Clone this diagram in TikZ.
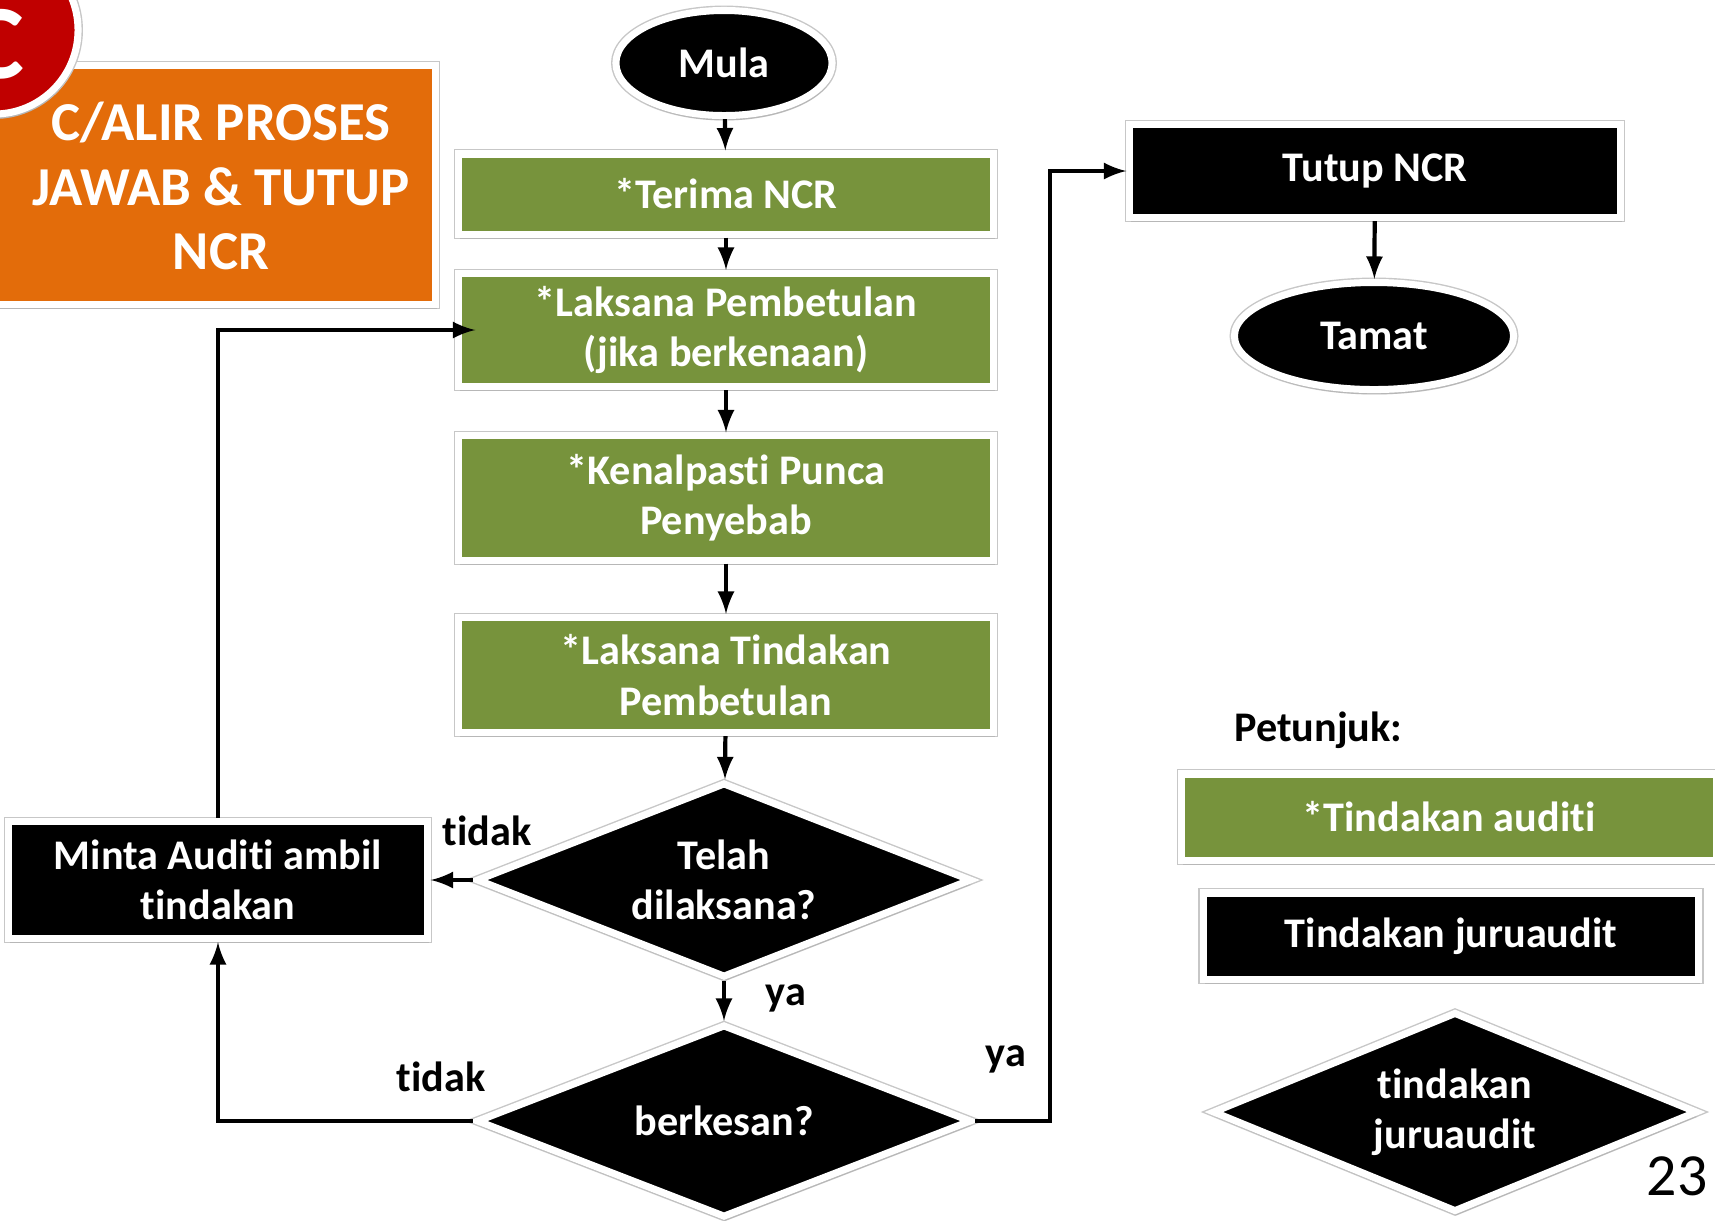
\documentclass[tikz,border=0pt]{standalone}
\usepackage{fontspec}
\setmainfont{Carlito}[Ligatures=NoCommon]
\usepackage{tikz}
\usetikzlibrary{shapes.geometric, arrows, shadows, positioning}
\definecolor{olive}{HTML}{77933C}
\definecolor{titleorange}{HTML}{E36C0A}
\definecolor{badgered}{HTML}{C00000}
\tikzstyle{arrow} = [line width=1.2pt,->,>=latex]
\tikzstyle{boxfont} = [font=\fontsize{12}{14.3}\selectfont\bfseries]
\tikzstyle{framed} = [preaction={draw=black!22, line width=2.8pt}, draw=white, line width=2pt, drop shadow={opacity=0.22,shadow xshift=0.4pt,shadow yshift=-1.4pt}]
\tikzstyle{greenbox} = [rectangle, fill=olive, framed, text=white, boxfont, align=center, minimum width=5.34cm]
\tikzstyle{blackbox} = [rectangle, fill=black, framed, text=white, boxfont, align=center]
\tikzstyle{terminal} = [ellipse, fill=black, framed, text=white, boxfont]
\tikzstyle{decision} = [diamond, aspect=2.5, fill=black, framed, text=white, boxfont, align=center, inner sep=0pt, minimum width=4.95cm, minimum height=1.95cm]
\tikzstyle{answer} = [boxfont, text=black]

\begin{document}
\begin{tikzpicture}[x=0.01cm, y=-0.01cm]
    \fill[white] (0,0) rectangle (1715,1220);
    \useasboundingbox (0,0) rectangle (1715,1220);

    % Title
    \node (title) [rectangle, fill=titleorange, framed, minimum width=4.4cm, minimum height=2.38cm] at (215,185) {};
    \node (titletext) [text=white, align=center, font=\fontsize{15.6}{18.4}\selectfont\bfseries] at (221,186) {C/ALIR PROSES\\JAWAB \& TUTUP\\NCR};
    \node (badge) [circle, fill=badgered, framed, minimum size=1.68cm] at (-6,30) {};
    \node (badgetext) [text=white, font=\fontsize{30}{32}\selectfont\bfseries] at (-4,44) {C};

    % Main flow
    \node (mula) [terminal, minimum width=2.16cm, minimum height=1.05cm] at (724,63) {Mula};
    \node (terima) [greenbox, minimum height=0.8cm] at (726,194) {*Terima NCR};
    \node (pembetulan) [greenbox, minimum height=1.13cm] at (726,330) {*Laksana Pembetulan\\(jika berkenaan)};
    \node (punca) [greenbox, minimum height=1.24cm] at (726,498) {*Kenalpasti Punca\\Penyebab};
    \node (tindakan) [greenbox, minimum height=1.15cm] at (726,675) {*Laksana Tindakan\\Pembetulan};
    \node (telah) [decision] at (724,880) {Telah\\dilaksana?};
    \node (kesan) [decision, minimum height=1.93cm] at (724,1121) {berkesan?};
    \node (minta) [blackbox, minimum width=4.18cm, minimum height=1.17cm] at (218,880) {Minta Auditi ambil\\tindakan};
    \node (tutup) [blackbox, minimum width=4.9cm, minimum height=0.93cm] at (1375,171) {Tutup NCR};
    \node (tamat) [terminal, minimum width=2.79cm, minimum height=1.07cm] at (1374,336) {Tamat};
    \coordinate (bend) at (1050,1121);

    % Edges
    \draw[arrow] (mula) -- (terima);
    \draw[arrow] (terima) -- (pembetulan);
    \draw[arrow] (pembetulan) -- (punca);
    \draw[arrow] (punca) -- (tindakan);
    \draw[arrow] (tindakan) -- (telah);
    \draw[arrow] (telah) -- (kesan);
    \draw[arrow] (telah.west) -- (minta.east);
    \draw[arrow] (kesan.west) -| (minta.south);
    \draw[arrow] (minta.north) |- ([xshift=0.2cm]pembetulan.west);
    \draw[arrow] (kesan.east) -- (bend) |- (tutup.west);
    \draw[arrow] (tutup) -- (tamat);

    \node (tidakA) [answer] at (487,831) {tidak};
    \node (yaA) [answer] at (786,998) {ya};
    \node (tidakB) [answer] at (441,1077) {tidak};
    \node (yaB) [answer] at (1006,1059) {ya};

    % Legend
    \node (petunjuk) [answer, anchor=west] at (1222,730) {Petunjuk:};
    \node (keyauditi) [greenbox, minimum height=0.86cm] at (1449,817) {*Tindakan auditi};
    \node (keyjuru) [blackbox, minimum width=4.95cm, minimum height=0.86cm] at (1451,936) {Tindakan juruaudit};
    \node (keydecide) [decision, minimum width=4.85cm, minimum height=2cm] at (1455,1112) {tindakan\\juruaudit};
    \node (page) [font=\fontsize{17}{20}\selectfont] at (1677,1176) {23};
\end{tikzpicture}
\end{document}
